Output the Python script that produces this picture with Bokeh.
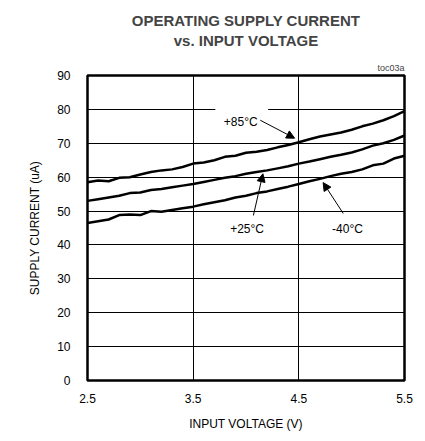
from bokeh.plotting import figure
from bokeh.models import Label, Arrow, NormalHead, FixedTicker, Range1d, BoxAnnotation, Title
from bokeh.embed import file_html
from bokeh.resources import INLINE

# data
voltage = [2.5, 2.6, 2.7, 2.8, 2.9, 3.0, 3.1, 3.2, 3.3, 3.4, 3.5, 3.6, 3.7, 3.8, 3.9, 4.0,
           4.1, 4.2, 4.3, 4.4, 4.5, 4.6, 4.7, 4.8, 4.9, 5.0, 5.1, 5.2, 5.3, 5.4, 5.5]
i_85 = [58.5, 59.0, 58.8, 59.8, 60.0, 60.8, 61.5, 62.0, 62.3, 63.0, 64.0, 64.3, 65.0, 66.0, 66.3, 67.2,
        67.5, 68.0, 68.8, 69.5, 70.3, 71.2, 72.0, 72.6, 73.2, 74.0, 75.0, 75.8, 76.8, 78.0, 79.5]
i_25 = [53.0, 53.5, 54.0, 54.5, 55.3, 55.5, 56.2, 56.5, 57.0, 57.5, 58.0, 58.6, 59.2, 59.8, 60.3, 61.0,
        61.5, 62.0, 62.6, 63.2, 64.0, 64.6, 65.3, 66.0, 66.6, 67.3, 68.2, 69.3, 70.0, 71.0, 72.3]
i_m40 = [46.5, 47.0, 47.5, 48.8, 49.0, 48.8, 50.0, 49.8, 50.3, 50.8, 51.3, 52.0, 52.6, 53.2, 54.0, 54.5,
         55.3, 55.8, 56.5, 57.2, 58.0, 58.8, 59.5, 60.3, 61.0, 61.5, 62.3, 63.5, 64.0, 65.5, 66.3]
x_ticks = [2.5, 3.5, 4.5, 5.5]
y_ticks = [0, 10, 20, 30, 40, 50, 60, 70, 80, 90]

FONT = "Liberation Sans"

p = figure(width=417, height=433, output_backend="svg", toolbar_location=None,
           x_range=Range1d(2.5, 5.5), y_range=Range1d(0, 90),
           min_border_left=87, min_border_right=13, min_border_top=75, min_border_bottom=53)
p.background_fill_color = "white"
p.border_fill_color = "white"
p.outline_line_color = "black"
p.outline_line_width = 2.5

p.xaxis.ticker = FixedTicker(ticks=x_ticks)
p.yaxis.ticker = FixedTicker(ticks=y_ticks)
p.xgrid.ticker = FixedTicker(ticks=x_ticks)
p.ygrid.ticker = FixedTicker(ticks=y_ticks)
for g in (p.xgrid, p.ygrid):
    g.grid_line_color = "black"
    g.grid_line_width = 1
    g.grid_line_alpha = 1

for ax in (p.xaxis, p.yaxis):
    ax.axis_line_color = None
    ax.major_tick_line_color = None
    ax.minor_tick_line_color = None
    ax.major_label_text_font = FONT
    ax.major_label_text_font_size = "12px"
    ax.major_label_text_color = "black"
    ax.axis_label_text_font = FONT
    ax.axis_label_text_font_size = "12px"
    ax.axis_label_text_font_style = "normal"
    ax.axis_label_text_color = "black"

p.xaxis.axis_label = "INPUT VOLTAGE (V)"
p.yaxis.axis_label = "SUPPLY CURRENT (uA)"
p.xaxis.major_label_standoff = 7
p.xaxis.axis_label_standoff = 11
p.yaxis.major_label_standoff = 11
p.yaxis.axis_label_standoff = 12

# titles (first added = closest to the frame)
p.add_layout(Title(text="toc03a", align="right", text_font=FONT, text_font_size="9px",
                   text_font_style="normal", standoff=5, offset=0), "above")
p.add_layout(Title(text="OPERATING SUPPLY CURRENT\nvs. INPUT VOLTAGE", align="center",
                   text_align="center", text_font=FONT, text_font_size="15px",
                   text_font_style="bold", text_line_height=1.17, standoff=19), "above")

# white gap behind +85 label
p.add_layout(BoxAnnotation(left=3.71, right=4.21, bottom=73.5, top=82,
                           fill_color="white", fill_alpha=1, line_color=None))

for ys in (i_85, i_25, i_m40):
    p.line(voltage, ys, line_color="black", line_width=2.5)

def lab(x, y, t):
    p.add_layout(Label(x=x, y=y, text=t, text_align="center", text_baseline="middle",
                       text_font=FONT, text_font_size="12px", text_color="black"))

lab(3.95, 76.2, "+85°C")
lab(4.01, 44.8, "+25°C")
lab(4.96, 44.8, "-40°C")

def arr(x0, y0, x1, y1):
    p.add_layout(Arrow(x_start=x0, y_start=y0, x_end=x1, y_end=y1, line_width=1, line_color="black",
                       end=NormalHead(size=8, fill_color="black", line_color="black")))

arr(4.135, 76.8, 4.46, 71.5)
arr(4.07, 48.7, 4.16, 61.0)
arr(4.92, 49.3, 4.73, 58.4)

open("out.html", "w").write(file_html(p, INLINE))
